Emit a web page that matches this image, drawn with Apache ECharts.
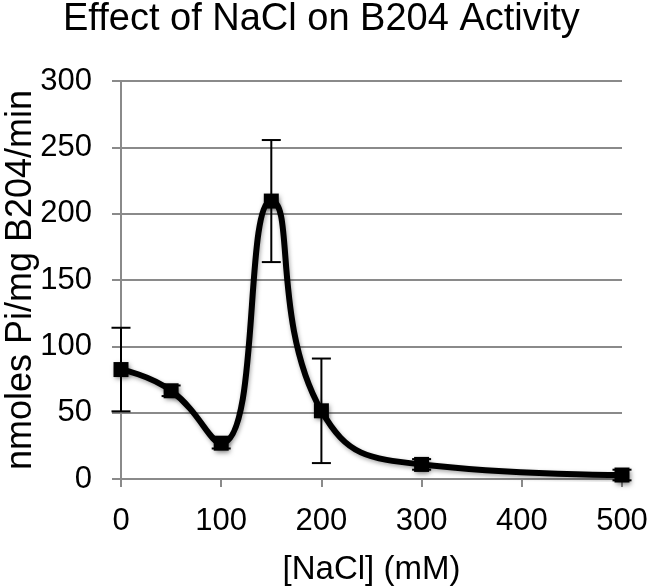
<!DOCTYPE html>
<html>
<head>
<meta charset="utf-8">
<script src="https://cdn.jsdelivr.net/npm/echarts@6/dist/echarts.min.js"></script>
<style>
html,body{margin:0;padding:0;background:#fff;}
#chart{width:650px;height:587px;}
</style>
</head>
<body>
<div id="chart"></div>
<script>
var nacl = [0, 50, 100, 150, 200, 300, 500];
var activity = [82.5, 66.5, 27, 209.5, 51.4, 11, 3];
var errors = [31.5, 4, 4, 46, 39.4, 4, 4];
var xTicks = [0, 100, 200, 300, 400, 500];
var yTicks = [0, 50, 100, 150, 200, 250, 300];

var points = nacl.map(function (x, i) { return [x, activity[i]]; });
var errData = nacl.map(function (x, i) { return [x, activity[i] - errors[i], activity[i] + errors[i]]; });

var FONT = '"Liberation Sans", Arial, Helvetica, sans-serif';
var GRID_COLOR = '#8a8a8a';

var chart = echarts.init(document.getElementById('chart'), null, {renderer: 'canvas'});
chart.setOption({
  backgroundColor: '#ffffff',
  animation: false,
  title: {
    text: 'Effect of NaCl on B204 Activity',
    left: 58,
    top: -4,
    textStyle: {fontFamily: FONT, fontSize: 38, fontWeight: 'normal', color: '#000'}
  },
  grid: {left: 121, right: 28, top: 81, bottom: 108, containLabel: false, outerBoundsMode: 'none'},
  xAxis: {
    type: 'value',
    min: xTicks[0],
    max: xTicks[xTicks.length - 1],
    interval: xTicks[1] - xTicks[0],
    name: '[NaCl] (mM)',
    nameLocation: 'middle',
    nameGap: 74,
    nameMoveOverlap: false,
    nameTextStyle: {fontFamily: FONT, fontSize: 33, color: '#000'},
    axisLine: {show: true, lineStyle: {color: GRID_COLOR, width: 2}},
    axisTick: {show: true, length: 8, lineStyle: {color: GRID_COLOR, width: 2}},
    axisLabel: {fontFamily: FONT, fontSize: 31, color: '#000', margin: 27},
    splitLine: {show: false}
  },
  yAxis: {
    type: 'value',
    min: yTicks[0],
    max: yTicks[yTicks.length - 1],
    interval: yTicks[1] - yTicks[0],
    name: 'nmoles Pi/mg B204/min',
    nameLocation: 'middle',
    nameGap: 82,
    nameRotate: 90,
    nameMoveOverlap: false,
    nameTextStyle: {fontFamily: FONT, fontSize: 36, color: '#000'},
    axisLine: {show: true, lineStyle: {color: GRID_COLOR, width: 2}},
    axisTick: {show: true, length: 9, lineStyle: {color: GRID_COLOR, width: 2}},
    axisLabel: {fontFamily: FONT, fontSize: 31, color: '#000', margin: 29},
    splitLine: {show: true, lineStyle: {color: GRID_COLOR, width: 2}}
  },
  series: [
    {
      type: 'custom',
      z: 3,
      renderItem: function (params, api) {
        var x = api.value(0);
        var lo = api.coord([x, api.value(1)]);
        var hi = api.coord([x, api.value(2)]);
        var hw = 9.5;
        var style = {stroke: '#000', lineWidth: 2};
        return {
          type: 'group',
          children: [
            {type: 'line', shape: {x1: lo[0], y1: lo[1], x2: hi[0], y2: hi[1]}, style: style},
            {type: 'line', shape: {x1: lo[0] - hw, y1: lo[1], x2: lo[0] + hw, y2: lo[1]}, style: style},
            {type: 'line', shape: {x1: hi[0] - hw, y1: hi[1], x2: hi[0] + hw, y2: hi[1]}, style: style}
          ]
        };
      },
      data: errData
    },
    {
      type: 'line',
      z: 4,
      data: points,
      smooth: 0.5,
      symbol: 'rect',
      symbolSize: 15,
      showAllSymbol: true,
      lineStyle: {color: '#000', width: 6, shadowBlur: 4, shadowColor: 'rgba(0,0,0,0.35)', shadowOffsetX: 1, shadowOffsetY: 2},
      itemStyle: {color: '#000', shadowBlur: 5, shadowColor: 'rgba(0,0,0,0.5)', shadowOffsetX: 1, shadowOffsetY: 2}
    }
  ]
});
</script>
</body>
</html>
